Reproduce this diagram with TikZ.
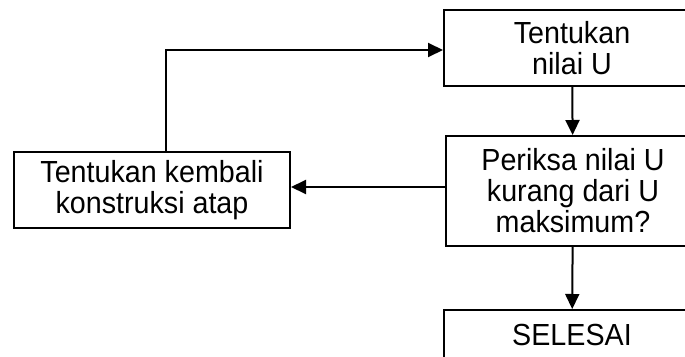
\documentclass[tikz,border=0pt]{standalone}
\usepackage{fontspec}
\setmainfont{Liberation Sans}[FakeStretch=0.94]
\usetikzlibrary{arrows.meta}

\begin{document}
\begin{tikzpicture}[x=1pt,y=-1pt,line width=2pt,
  kotak/.style={draw,rectangle,align=center,inner sep=0pt,
    font=\fontsize{30.5}{31}\selectfont},
  panah/.style={-{Triangle[length=15pt,width=14pt]}}]
\useasboundingbox (0,0) rectangle (685,356);
\clip (0,0) rectangle (685,356);
\node[kotak,minimum width=256,minimum height=76] (nilaiU) at (572,48) {Tentukan\\nilai U};
\node[kotak,minimum width=254,minimum height=110] (periksa) at (573,191) {Periksa nilai U\\kurang dari U\\maksimum?};
\node[kotak,minimum width=276,minimum height=76] (kembali) at (152,190) {Tentukan kembali\\konstruksi atap};
\node[kotak,minimum width=256,minimum height=50] (selesai) at (572,335) {SELESAI};
\coordinate (sudut) at (166,50);
\draw[panah] (nilaiU) -- (periksa);
\draw[panah] (periksa) -- (selesai);
\draw[panah] ([yshift=4]periksa.west) -- ([yshift=4]periksa.west -| kembali.east);
\draw[panah] (sudut |- kembali.north) -- (sudut) -- (sudut -| nilaiU.west);
\end{tikzpicture}
\end{document}
